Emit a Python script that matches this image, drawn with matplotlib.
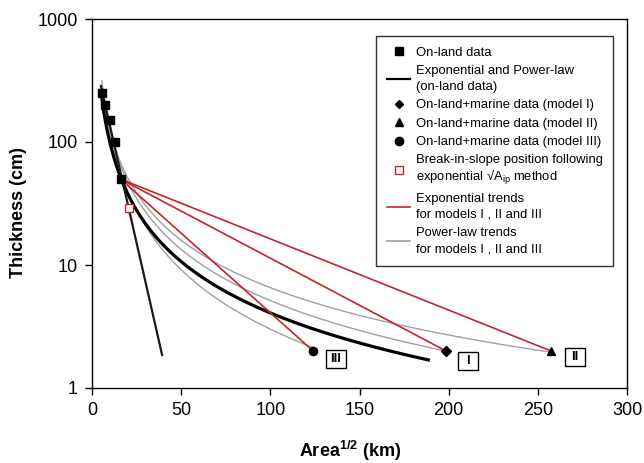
import numpy as np
import matplotlib
matplotlib.use("Agg")
import matplotlib.pyplot as plt
from matplotlib.lines import Line2D
from matplotlib.transforms import offset_copy

plt.rcParams['font.family'] = ['Liberation Sans', 'DejaVu Sans']
plt.rcParams['mathtext.fontset'] = 'custom'
plt.rcParams['mathtext.rm'] = 'Liberation Sans'
plt.rcParams['mathtext.bf'] = 'Liberation Sans:bold'

# on-land data : Area^1/2 (km) / thickness (cm)
land_x = [5.4, 7.3, 10.0, 13.0, 16.0]
land_t = [250, 200, 150, 100, 50]

# on-land + marine data, models I, II, III (last marine point)
model_names = ['I', 'II', 'III']
model_x = [198.5, 257.4, 124.0]
model_t = [2.0, 2.0, 2.0]
model_markers = ['D', '^', 'o']

# break-in-slope position (exponential sqrt(A_ip) method)
bis_x = [20.5]
bis_t = [29.0]

# trend coefficients
# exponential  T = a*exp(-b*x)   power-law  T = a*x^-k
exp_land_a, exp_land_b = 593.0, 0.1467
pow_land_a, pow_land_k = 2423.0, 1.387
pow_model_a = [2958.0, 2364.0, 4835.0]
pow_model_k = [1.380, 1.279, 1.603]

RED = '#c8232c'
GREY = '#a0a0a0'

fig = plt.figure(figsize=(6.44, 4.63), dpi=100)
ax = fig.add_axes([92/644, 1-388/463, 535/644, 369/463])

# power-law trends for models I, II, III
for a, k, mx in zip(pow_model_a, pow_model_k, model_x):
    xx = np.linspace(5.5, mx, 300)
    ax.plot(xx, a * xx**(-k), color=GREY, lw=1.0, zorder=2)

# on-land trends
xx = np.linspace(5.0, 188.6, 400)
ax.plot(xx, pow_land_a * xx**(-pow_land_k), color='black', lw=2.3, zorder=3)
xx = np.linspace(5.0, 39.3, 100)
ax.plot(xx, exp_land_a * np.exp(-exp_land_b * xx), color='#1a1a1a', lw=1.6, zorder=3)

# exponential trends (straight on log axis) from last on-land point
for mx, mt in zip(model_x, model_t):
    ax.plot([land_x[-1], mx], [land_t[-1], mt], color=RED, lw=1.2, zorder=4)

ax.plot(land_x, land_t, 's', color='black', ms=6, zorder=6)
for mx, mt, mk in zip(model_x, model_t, model_markers):
    ax.plot(mx, mt, mk, color='black', ms=5 if mk == 'D' else 6, zorder=6)
ax.plot(bis_x, bis_t, 's', mfc='white', mec=RED, mew=1.0, ms=5.5, zorder=6)

# roman numeral boxes next to model points
box = [(-1.17, -1), (1.17, -1), (1.17, 1), (-1.17, 1), (-1.17, -1)]
offsets = {'I': (15.5, -7.5), 'II': (17, -4), 'III': (16.5, -6)}
for name, mx, mt in zip(model_names, model_x, model_t):
    dx, dy = offsets[name]
    tr = offset_copy(ax.transData, fig=fig, x=dx, y=dy, units='points')
    ax.plot(mx, mt, marker=box, ms=15, mfc='white', mec='black', mew=1.0,
            transform=tr, zorder=7, clip_on=False)
    ax.text(mx, mt, name, transform=tr, ha='center', va='center',
            fontsize=9.5, fontweight='bold', zorder=8)

ax.set_yscale('log')
ax.set_xlim(0, 300)
ax.set_ylim(1, 1000)
ax.set_xticks(np.arange(0, 301, 50))
ax.set_yticks([1, 10, 100, 1000])
ax.set_yticklabels(['1', '10', '100', '1000'])
ax.yaxis.set_minor_locator(matplotlib.ticker.NullLocator())
ax.tick_params(direction='out', length=5, width=1, labelsize=13, pad=5)
for s in ax.spines.values():
    s.set_linewidth(1.0)

fig.text(350/644, 1-451/463, 'Area$^{\\mathbf{1/2}}$ (km)', fontsize=13,
         fontweight='bold', ha='center', va='center')
fig.text(19/644, 1-213/463, 'Thickness (cm)', fontsize=13, fontweight='bold',
         rotation=90, ha='center', va='center')

handles = [
    Line2D([], [], ls='none', marker='s', color='black', ms=6),
    Line2D([], [], color='black', lw=1.6),
    Line2D([], [], ls='none', marker='D', color='black', ms=4.5),
    Line2D([], [], ls='none', marker='^', color='black', ms=6),
    Line2D([], [], ls='none', marker='o', color='black', ms=6),
    Line2D([], [], ls='none', marker='s', mfc='white', mec=RED, ms=6),
    Line2D([], [], color=RED, lw=1.2),
    Line2D([], [], color=GREY, lw=1.2),
]
labels = [
    'On-land data',
    'Exponential and Power-law\n(on-land data)',
    'On-land+marine data (model I)',
    'On-land+marine data (model II)',
    'On-land+marine data (model III)',
    'Break-in-slope position following\nexponential \u221aA$_{\\rm ip}$ method',
    'Exponential trends\nfor models I , II and III',
    'Power-law trends\nfor models I , II and III',
]
leg = ax.legend(handles, labels, loc='upper right', bbox_to_anchor=(0.974, 0.954),
                borderaxespad=0, fontsize=9.4, frameon=True, fancybox=False,
                edgecolor='black', handlelength=1.8, handletextpad=0.4,
                borderpad=0.8, labelspacing=0.48)
leg.get_frame().set_linewidth(1.0)
for t in leg.get_texts():
    # the mathtext line is taller, keep its spacing tighter
    t.set_linespacing(1.1 if '$' in t.get_text() else 1.45)

fig.savefig('out.png', dpi=100)
